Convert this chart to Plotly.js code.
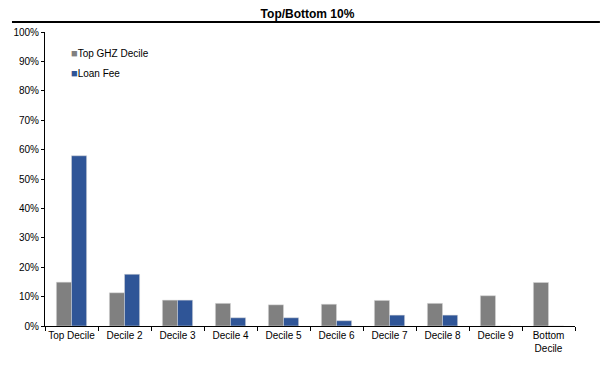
<!DOCTYPE html>
<html>
<head>
<meta charset="utf-8">
<script src="https://cdn.plot.ly/plotly-3.0.1.min.js"></script>
<style>html,body{margin:0;padding:0;background:#fff;}#chart{width:615px;height:378px;}</style>
</head>
<body>
<div id="chart"></div>
<script>
const categories = ["Top Decile","Decile 2","Decile 3","Decile 4","Decile 5","Decile 6","Decile 7","Decile 8","Decile 9","Bottom<br>Decile"];
const topGhz = [14.9, 11.3, 8.8, 7.7, 7.2, 7.4, 8.7, 7.7, 10.3, 14.8];
const loanFee = [57.9, 17.6, 8.8, 2.8, 2.8, 1.8, 3.7, 3.7, 0, 0];
const yTicks = [0,10,20,30,40,50,60,70,80,90,100];
const yTickText = yTicks.map(v => v + "%");
const seriesNames = ["Top GHZ Decile", "Loan Fee"];
const seriesColors = ["#808080", "#2F5597"];

const font = {family: "Liberation Sans, Arial, sans-serif", size: 10, color: "#000"};

const data = [
  {type: "bar", name: seriesNames[0], x: categories, y: topGhz,
   marker: {color: seriesColors[0], line: {color: "#d9d9d9", width: 0.5}}},
  {type: "bar", name: seriesNames[1], x: categories, y: loanFee,
   marker: {color: seriesColors[1], line: {color: "#d9d9d9", width: 0.5}}}
];

const legendAnn = seriesNames.map((n, i) => ({
  xref: "paper", yref: "paper", x: 0.046, y: 0.93 - i * 0.068, xanchor: "left", yanchor: "middle",
  showarrow: false, align: "left",
  text: "<span style='color:" + seriesColors[i] + ";font-size:11px'>■</span>" + n,
  font: {family: "Liberation Sans, Arial, sans-serif", size: 10, color: "#000"}
}));

const layout = {
  width: 615, height: 378,
  margin: {l: 45, r: 40, t: 32, b: 52},
  paper_bgcolor: "#fff", plot_bgcolor: "#fff",
  font: font,
  title: {text: "<b>Top/Bottom 10%</b>", font: {family: "Liberation Sans, Arial, sans-serif", size: 12, color: "#000"},
          x: 0.5, xanchor: "center", y: 1 - 14/378, yanchor: "middle", yref: "container"},
  barmode: "group", bargap: 0.43, bargroupgap: 0,
  showlegend: false,
  annotations: legendAnn,
  xaxis: {type: "category", showline: true, linecolor: "#000", linewidth: 1, tickangle: 0,
          ticks: "outside", tickson: "boundaries", ticklen: 4, tickcolor: "#000",
          showgrid: false, tickfont: font, fixedrange: true},
  yaxis: {range: [0, 100], tickvals: yTicks, ticktext: yTickText, showline: true, linecolor: "#000", linewidth: 1,
          ticks: "outside", ticklen: 3, tickcolor: "#000", showgrid: false, zeroline: false, tickfont: font},
  shapes: [{type: "line", xref: "paper", yref: "paper", x0: -0.0623, x1: 1.047, y0: 1.034, y1: 1.034,
            line: {color: "#000", width: 2}}]
};

Plotly.newPlot("chart", data, layout, {displayModeBar: false, staticPlot: true});
</script>
</body>
</html>
